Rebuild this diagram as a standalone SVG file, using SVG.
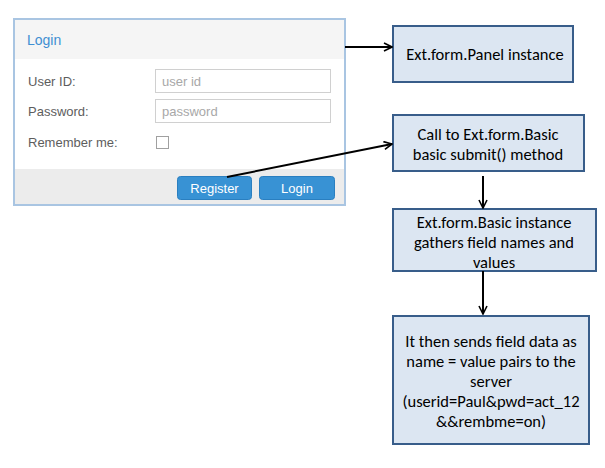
<svg xmlns="http://www.w3.org/2000/svg" width="605" height="468" viewBox="0 0 605 468">
<defs>
<style>
.lbl{font-family:"Liberation Sans",Arial,sans-serif;font-size:13px;fill:#5d5d5d}
.ph{font-family:"Liberation Sans",Arial,sans-serif;font-size:13px;fill:#a8a8a8}
.inp{fill:#fff;stroke:#d0d0d0;stroke-width:1}
.btn{fill:#3892d4;stroke:#2a7fc0;stroke-width:1}
.btxt{font-family:"Liberation Sans",Arial,sans-serif;font-size:13px;fill:#fff;text-anchor:middle}
.box{fill:#dce6f2;stroke:#385d8a;stroke-width:2}
.bt{font-family:"Carlito","Liberation Sans",Arial,sans-serif;font-size:16.5px;fill:#000;text-anchor:middle}
.con{stroke:#000;stroke-width:2;fill:none;marker-end:url(#ah)}
</style>
<marker id="ah" viewBox="0 0 10 10" refX="9" refY="5" markerWidth="5" markerHeight="5" orient="auto" markerUnits="strokeWidth">
<path d="M1,1 L9,5 L1,9" fill="none" stroke="#000" stroke-width="1.6"/>
</marker>
</defs>
<rect width="605" height="468" fill="#fff"/>
<g id="login-panel">
<rect x="14" y="19" width="331" height="186" fill="#fff" stroke="#a9c5e2" stroke-width="2"/>
<rect x="15" y="20" width="329" height="39" fill="#f5f5f5"/>
<text x="27" y="45" font-family="'Liberation Sans',Arial,sans-serif" font-size="14" fill="#3f8fd2">Login</text>
<text class="lbl" x="28" y="86">User ID:</text>
<rect class="inp" x="155.5" y="69.5" width="175" height="23"/>
<text class="ph" x="162" y="86">user id</text>
<text class="lbl" x="28" y="116">Password:</text>
<rect class="inp" x="155.5" y="99.5" width="175" height="23"/>
<text class="ph" x="162" y="116">password</text>
<text class="lbl" x="28" y="147">Remember me:</text>
<rect x="156.5" y="136.5" width="12" height="12" fill="#fff" stroke="#a0a0a0"/>
<rect x="15" y="169" width="329" height="35" fill="#ececec"/>
<rect class="btn" x="177.5" y="176.5" width="74" height="23" rx="3"/>
<text class="btxt" x="214.5" y="192.5">Register</text>
<rect class="btn" x="259.5" y="176.5" width="75" height="23" rx="3"/>
<text class="btxt" x="297" y="192.5">Login</text>
</g>
<g id="panel-instance">
<rect class="box" x="393" y="26" width="180" height="56"/>
<text class="bt" x="485" y="60">Ext.form.Panel instance</text>
</g>
<g id="submit-call">
<rect class="box" x="393" y="115" width="191" height="56"/>
<text class="bt" x="488" y="140">Call to Ext.form.Basic</text>
<text class="bt" x="488" y="160">basic submit() method</text>
</g>
<g id="basic-instance">
<rect class="box" x="393" y="209" width="203" height="62"/>
<text class="bt" x="494" y="228">Ext.form.Basic instance</text>
<text class="bt" x="494" y="248">gathers field names and</text>
<text class="bt" x="494" y="268">values</text>
</g>
<g id="send-data">
<rect class="box" x="393" y="316" width="196" height="128"/>
<text class="bt" x="491" y="347">It then sends field data as</text>
<text class="bt" x="491" y="367">name = value pairs to the</text>
<text class="bt" x="491" y="387">server</text>
<text class="bt" x="491" y="407">(userid=Paul&amp;pwd=act_12</text>
<text class="bt" x="491" y="427">&amp;&amp;rembme=on)</text>
</g>
<g id="connectors">
<line class="con" x1="345" y1="47" x2="392" y2="47"/>
<line class="con" x1="227" y1="177" x2="392" y2="144"/>
<line class="con" x1="483" y1="176" x2="483" y2="208"/>
<line class="con" x1="483" y1="271" x2="483" y2="314"/>
</g>
</svg>
